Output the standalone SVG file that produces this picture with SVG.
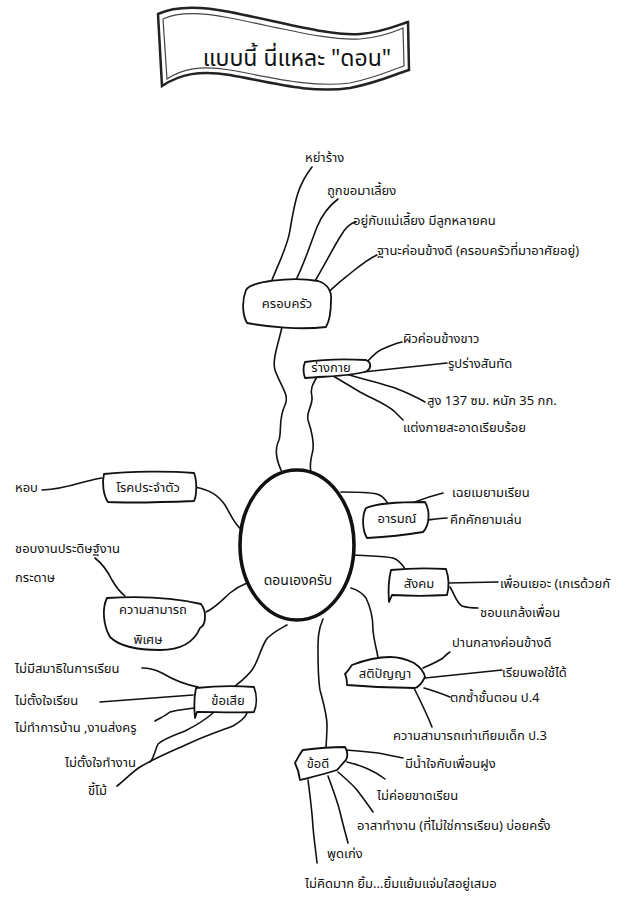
<svg xmlns="http://www.w3.org/2000/svg" width="632" height="897" viewBox="0 0 632 897">
<style>
.t{font-family:"Noto Sans Thai","Noto Sans","DejaVu Sans",sans-serif;font-size:13px;fill:#111}
.c{text-anchor:middle}
.ln{fill:none;stroke:#111;stroke-width:1.6;stroke-linecap:round;stroke-linejoin:round}
.bx{fill:#fff;stroke:#111;stroke-width:1.8;stroke-linejoin:round}
</style>
<rect width="632" height="897" fill="#fff"/>
<g id="banner">
<path d="M158,14 C175,6 200,6 230,12 C290,24 330,36 360,34 C385,32 400,24 408,22 L409,70 C395,74 380,82 350,88 C310,94 270,82 230,75 C200,70 180,74 162,86 Z" fill="#fff" stroke="#222" stroke-width="2.5"/>
<path d="M163,19 C178,12 200,12 230,18 C290,30 330,41 360,39 C383,37 396,31 403,28 L404,66 C391,70 378,77 350,83 C310,88 270,77 230,70 C200,65 182,69 167,79 Z" fill="none" stroke="#444" stroke-width="1.2"/>
<text class="t c" x="297" y="66" style="font-size:23px">แบบนี้ นี่แหละ "ดอน"</text>
</g>
<g id="connectors">
<!-- trunk -->
<path class="ln" d="M282,327 C278,345 272,360 275,370 C280,385 290,395 285,405 C278,420 282,430 279,440 C274,450 276,460 282,472"/>
<path class="ln" d="M317,377 C312,385 310,390 312,397 C313,405 306,412 308,420 C312,432 314,442 313,450 C311,458 309,465 311,472"/>
<!-- family -->
<path class="ln" d="M272,280 C280,260 288,245 290,230 C295,200 298,185 312,167"/>
<path class="ln" d="M295,282 C305,262 310,245 317,227 C322,215 330,205 338,199"/>
<path class="ln" d="M312,286 C322,270 332,250 340,237 C345,228 350,223 356,222"/>
<path class="ln" d="M325,296 C335,285 345,278 352,272 C362,264 370,258 377,255"/>
<!-- body -->
<path class="ln" d="M367,362 C373,355 378,350 385,348 C392,345 397,343 402,342"/>
<path class="ln" d="M363,372 L447,363"/>
<path class="ln" d="M338,372 C360,378 380,383 395,388 C408,393 418,398 425,402"/>
<path class="ln" d="M328,373 C340,380 350,386 360,392 C375,400 388,405 395,412 C399,416 401,418 403,420"/>
<!-- center branches -->
<path class="ln" d="M195,487 C210,490 218,495 225,505 C232,517 235,525 242,530"/>
<path class="ln" d="M206,612 C215,608 222,600 230,593 C236,588 242,585 247,583"/>
<path class="ln" d="M95,558 C104,565 108,572 112,580 C116,587 120,592 125,596"/>
<path class="ln" d="M341,492 C355,492 368,492 377,494 C383,496 386,500 388,504"/>
<path class="ln" d="M354,555 C370,556 385,556 393,558 C399,560 402,564 405,569"/>
<path class="ln" d="M351,588 C358,590 363,594 366,598 C371,608 373,620 373,630 C374,642 377,650 378,658"/>
<path class="ln" d="M323,619 C318,630 318,640 318,650 C318,665 318,678 320,690 C324,705 327,715 327,725 C327,735 326,745 326,749"/>
<path class="ln" d="M287,625 C278,630 270,634 266,640 C260,650 258,662 252,670 C247,677 240,682 233,688"/>
<!-- emotion -->
<path class="ln" d="M415,502 C425,498 435,495 443,493"/>
<path class="ln" d="M428,520 C435,519 441,518 447,518"/>
<!-- society -->
<path class="ln" d="M448,583 L498,582"/>
<path class="ln" d="M450,587 C455,595 456,602 462,606 C468,608 473,608 478,608"/>
<!-- intelligence -->
<path class="ln" d="M423,668 C430,665 437,662 443,658 C446,655 448,653 450,652"/>
<path class="ln" d="M425,678 L502,670"/>
<path class="ln" d="M424,688 C432,690 440,693 450,697"/>
<path class="ln" d="M414,688 C420,700 426,712 432,727"/>
<!-- disease -->
<path class="ln" d="M42,490 C60,489 70,486 80,483 C88,481 95,479 102,478"/>
<!-- weaknesses -->
<path class="ln" d="M142,668 C150,668 156,670 162,673 C172,679 182,684 198,687"/>
<path class="ln" d="M100,702 L193,695"/>
<path class="ln" d="M155,721 C160,718 165,716 170,712 C176,710 186,709 194,708"/>
<path class="ln" d="M150,762 C154,758 155,750 158,744 C165,738 175,735 185,731 C195,726 205,720 213,713"/>
<path class="ln" d="M117,786 C125,780 132,772 140,767 C155,758 170,752 190,743 C205,736 220,731 233,726 C240,722 245,718 247,713"/>
<!-- strengths -->
<path class="ln" d="M346,750 C360,751 370,752 378,753 C388,755 396,757 403,758"/>
<path class="ln" d="M347,762 C355,764 362,766 368,769 C375,772 380,775 385,779"/>
<path class="ln" d="M338,772 C345,778 352,784 357,790 C363,798 369,806 373,812"/>
<path class="ln" d="M328,776 C333,790 337,800 340,812 C343,825 346,835 348,843"/>
<path class="ln" d="M308,780 C310,795 312,810 313,827 C314,840 316,852 317,863"/>
</g>
<g id="n-center">
<ellipse cx="297" cy="545" rx="57" ry="75" fill="#fff" stroke="#111" stroke-width="3.6"/>
<text class="t c" x="298" y="585" style="font-size:14px">ดอนเองครับ</text>
</g>
<g id="n-family">
<path class="bx" d="M246,290 C250,282 290,276 318,281 C328,284 332,292 331,300 C331,310 330,320 326,327 C300,330 268,327 247,323 C242,314 242,300 246,290 Z"/>
<text class="t c" x="287" y="308">ครอบครัว</text>
<text class="t" x="305" y="162">หย่าร้าง</text>
<text class="t" x="327" y="195">ถูกขอมาเลี้ยง</text>
<text class="t" x="353" y="225">อยู่กับแม่เลี้ยง มีลูกหลายคน</text>
<text class="t" x="377" y="255">ฐานะค่อนข้างดี (ครอบครัวที่มาอาศัยอยู่)</text>
</g>
<g id="n-body">
<path class="bx" d="M305,362 C325,359 350,359 366,360 C371,362 372,367 367,371 C355,376 330,376 305,378 C303,372 303,367 305,362 Z"/>
<text class="t c" x="331" y="372">ร่างกาย</text>
<text class="t" x="403" y="343">ผิวค่อนข้างขาว</text>
<text class="t" x="448" y="368">รูปร่างสันทัด</text>
<text class="t" x="427" y="405">สูง 137 ซม. หนัก 35 กก.</text>
<text class="t" x="403" y="432">แต่งกายสะอาดเรียบร้อย</text>
</g>
<g id="n-disease">
<path class="bx" d="M104,474 C130,471 170,471 194,473 C197,480 197,495 194,501 C170,502 130,503 108,502 C103,495 102,482 104,474 Z"/>
<text class="t c" x="148" y="492">โรคประจำตัว</text>
<text class="t" x="15" y="492">หอบ</text>
</g>
<g id="n-talent">
<path class="bx" d="M107,598 C140,596 175,598 201,604 C207,612 206,625 200,628 C195,640 185,650 160,650 C135,650 118,645 110,637 C103,625 102,608 107,598 Z"/>
<text class="t c" x="153" y="614">ความสามารถ</text>
<text class="t c" x="148" y="644">พิเศษ</text>
<text class="t" x="15" y="553">ชอบงานประดิษฐ์งาน</text>
<text class="t" x="15" y="582">กระดาษ</text>
</g>
<g id="n-emotion">
<path class="bx" d="M366,508 C375,504 400,502 425,502 C430,510 430,525 423,532 C405,535 385,537 367,538 C362,530 362,515 366,508 Z"/>
<text class="t c" x="397" y="523">อารมณ์</text>
<text class="t" x="452" y="497">เฉยเมยามเรียน</text>
<text class="t" x="450" y="524">คึกคักยามเล่น</text>
</g>
<g id="n-social">
<path class="bx" d="M391,570 C410,568 430,568 446,569 C449,578 449,588 447,595 C430,596 410,596 392,595 L389,602 C388,590 389,578 391,570 Z"/>
<text class="t c" x="419" y="588">สังคม</text>
<text class="t" x="500" y="588">เพื่อนเยอะ (เกเรด้วยกั</text>
<text class="t" x="480" y="617">ชอบแกล้งเพื่อน</text>
</g>
<g id="n-intel">
<path class="bx" d="M352,665 C365,660 378,657 390,657 C400,657 408,660 414,663 C420,667 424,672 425,677 C422,683 419,687 415,688 C395,688 370,687 347,685 C347,680 346,676 345,674 C348,671 350,668 352,665 Z"/>
<text class="t c" x="385" y="678">สติปัญญา</text>
<text class="t" x="452" y="647">ปานกลางค่อนข้างดี</text>
<text class="t" x="502" y="677">เรียนพอใช้ได้</text>
<text class="t" x="450" y="702">ตกซ้ำชั้นตอน ป.4</text>
<text class="t" x="393" y="740">ความสามารถเท่าเทียมเด็ก ป.3</text>
</g>
<g id="n-weak">
<path class="bx" d="M196,688 C215,686 240,686 254,687 C257,695 257,705 254,712 C235,713 215,712 197,712 L195,718 C194,708 194,697 196,688 Z"/>
<text class="t c" x="228" y="705">ข้อเสีย</text>
<text class="t" x="15" y="673">ไม่มีสมาธิในการเรียน</text>
<text class="t" x="15" y="705">ไม่ตั้งใจเรียน</text>
<text class="t" x="15" y="732">ไม่ทำการบ้าน ,งานส่งครู</text>
<text class="t" x="65" y="767">ไม่ตั้งใจทำงาน</text>
<text class="t" x="88" y="795">ขี้โม้</text>
</g>
<g id="n-strong">
<path class="bx" d="M303,750 C318,748 333,747 345,747 C348,752 348,756 346,760 C342,764 340,767 337,770 C325,774 312,777 300,780 C299,772 297,767 295,763 C298,758 300,753 303,750 Z"/>
<text class="t c" x="318" y="768">ข้อดี</text>
<text class="t" x="405" y="768">มีน้ำใจกับเพื่อนฝูง</text>
<text class="t" x="377" y="800">ไม่ค่อยขาดเรียน</text>
<text class="t" x="357" y="830">อาสาทำงาน (ที่ไม่ใช่การเรียน) บ่อยครั้ง</text>
<text class="t" x="327" y="858">พูดเก่ง</text>
<text class="t" x="305" y="888">ไม่คิดมาก ยิ้ม...ยิ้มแย้มแจ่มใสอยู่เสมอ</text>
</g>
</svg>
